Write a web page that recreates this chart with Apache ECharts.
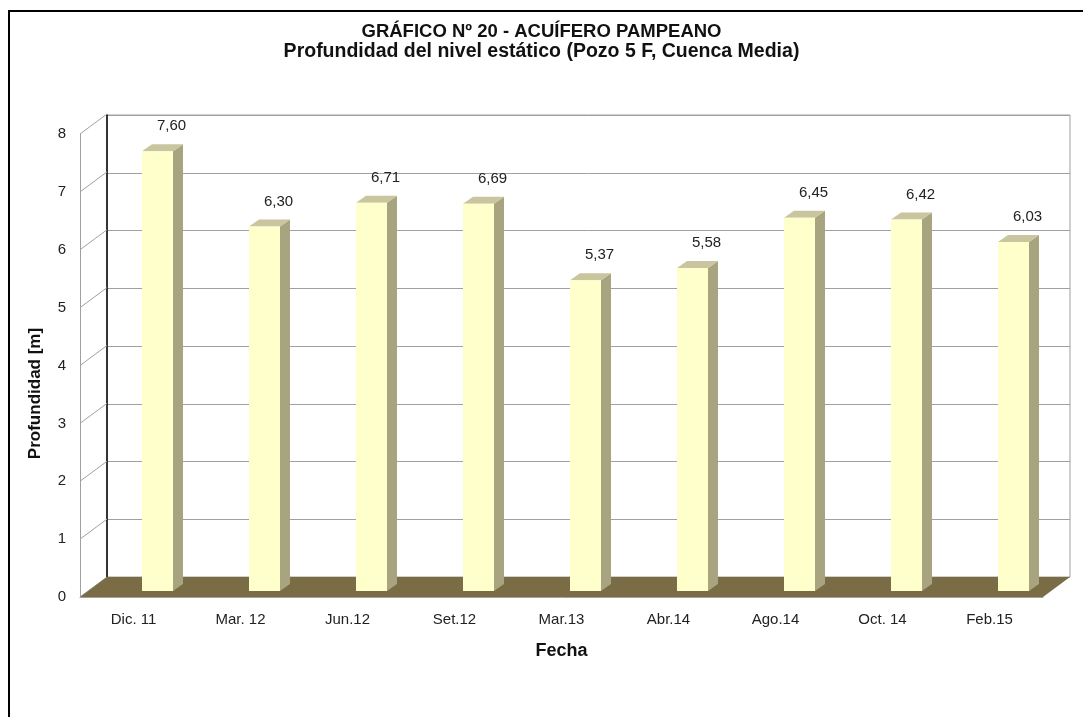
<!DOCTYPE html>
<html>
<head>
<meta charset="utf-8">
<script src="https://cdn.jsdelivr.net/npm/echarts@6/dist/echarts.min.js"></script>
<style>
    html, body {margin: 0; padding: 0; background: #fff;}
    #main {width: 1083px; height: 717px;}
</style>
</head>
<body>
<div id="main"></div>
<script>
const categories = ['Dic. 11', 'Mar. 12', 'Jun.12', 'Set.12', 'Mar.13', 'Abr.14', 'Ago.14', 'Oct. 14', 'Feb.15'];
const depths = [7.60, 6.30, 6.71, 6.69, 5.37, 5.58, 6.45, 6.42, 6.03];
const yTicks = [0, 1, 2, 3, 4, 5, 6, 7, 8];

const font = "'Liberation Sans', Arial, sans-serif";
// depth offset of the 3d box (front plane -> back wall)
const DX = 27, DY = -20;

const myChart = echarts.init(document.getElementById('main'));

// left side wall lines + floor, drawn from the front grid scale
const renderWall = (params, api) => {
    const bw = api.size([1, 0])[0];
    const xl = api.coord([0, 0])[0] - bw / 2;
    const y = api.coord([0, api.value(0)])[1];
    return {
        type: 'line',
        shape: {x1: xl, y1: y, x2: xl + DX, y2: y + DY},
        style: {stroke: '#a0a0a0', lineWidth: 1}
    };
};

const renderFloor = (params, api) => {
    const bw = api.size([1, 0])[0];
    const xl = api.coord([0, 0])[0] - bw / 2;
    const xr = api.coord([categories.length - 1, 0])[0] + bw / 2;
    const y = api.coord([0, 0])[1];
    return {
        type: 'polygon',
        shape: {points: [[xl, y], [xr, y], [xr + DX, y + DY], [xl + DX, y + DY]]},
        style: {fill: '#7a6d45'}
    };
};

const renderBar = (params, api) => {
    const i = api.value(0);
    const v = api.value(1);
    const top = api.coord([i, v]);
    const base = api.coord([i, 0]);
    const cx = top[0] + 24;
    const w = 31, sx = 10, sy = -7;
    const xl = cx - w / 2, xr = cx + w / 2;
    const yt = top[1] - 6, yb = base[1] - 6;
    return {
        type: 'group',
        children: [
            {
                type: 'polygon',
                shape: {points: [[xr, yt], [xr + sx, yt + sy], [xr + sx, yb + sy], [xr, yb]]},
                style: {fill: '#a8a47f'}
            },
            {
                type: 'polygon',
                shape: {points: [[xl, yt], [xl + sx, yt + sy], [xr + sx, yt + sy], [xr, yt]]},
                style: {fill: '#c9c69f'}
            },
            {
                type: 'rect',
                shape: {x: xl, y: yt, width: w, height: yb - yt},
                style: {fill: '#ffffcc'}
            },
            {
                type: 'text',
                style: {
                    x: cx + 14, y: yt - 25,
                    text: v.toFixed(2).replace('.', ','),
                    fill: '#222', font: '15px ' + font,
                    align: 'center', verticalAlign: 'middle'
                }
            }
        ]
    };
};

myChart.setOption({
    animation: false,
    textStyle: {fontFamily: font},
    title: {
        text: 'GRÁFICO Nº 20 - ACUÍFERO PAMPEANO',
        subtext: 'Profundidad del nivel estático (Pozo 5 F, Cuenca Media)',
        left: 'center',
        top: 22,
        padding: 0,
        itemGap: 0,
        textStyle: {fontSize: 18.5, fontWeight: 'bold', color: '#111', lineHeight: 20, fontFamily: font},
        subtextStyle: {fontSize: 19.5, fontWeight: 'bold', color: '#111', lineHeight: 20, fontFamily: font}
    },
    graphic: [
        {type: 'line', shape: {x1: 8, y1: 11, x2: 1083, y2: 11}, style: {stroke: '#000', lineWidth: 2}},
        {type: 'line', shape: {x1: 9, y1: 10, x2: 9, y2: 717}, style: {stroke: '#000', lineWidth: 2}}
    ],
    grid: [
        {left: 80, right: 40, top: 134, bottom: 120},
        {left: 107, right: 13, top: 115, bottom: 140, show: true, borderColor: '#a0a0a0', borderWidth: 1}
    ],
    xAxis: [
        {
            type: 'category',
            gridIndex: 0,
            data: categories,
            axisLine: {lineStyle: {color: '#a0a0a0'}},
            axisTick: {length: 5, lineStyle: {color: '#a0a0a0'}},
            axisLabel: {color: '#222', fontSize: 15, margin: 15},
            name: 'Fecha',
            nameLocation: 'middle',
            nameGap: 45,
            nameTextStyle: {fontSize: 18, fontWeight: 'bold', color: '#111'}
        },
        {type: 'category', gridIndex: 1, data: categories, show: false}
    ],
    yAxis: [
        {
            type: 'value',
            gridIndex: 0,
            min: 0,
            max: 8,
            interval: 1,
            axisLine: {show: true, lineStyle: {color: '#a0a0a0'}},
            axisTick: {show: false},
            splitLine: {show: false},
            axisLabel: {color: '#222', fontSize: 15, margin: 14},
            name: 'Profundidad [m]',
            nameLocation: 'middle',
            nameGap: 36,
            nameTextStyle: {fontSize: 17, fontWeight: 'bold', color: '#111', padding: [0, 56, 0, 0]}
        },
        {
            type: 'value',
            gridIndex: 1,
            min: 0,
            max: 8,
            interval: 1,
            axisLine: {show: true, lineStyle: {color: '#000', width: 1.5}},
            axisTick: {show: false},
            axisLabel: {show: false},
            splitLine: {show: true, lineStyle: {color: '#a0a0a0', width: 1}}
        }
    ],
    series: [
        {
            type: 'custom',
            name: 'pared',
            xAxisIndex: 0,
            yAxisIndex: 0,
            data: yTicks.map(t => [t]),
            renderItem: renderWall,
            silent: true,
            z: 1
        },
        {
            type: 'custom',
            name: 'piso',
            xAxisIndex: 0,
            yAxisIndex: 0,
            data: [[0]],
            renderItem: renderFloor,
            silent: true,
            z: 2
        },
        {
            type: 'custom',
            name: 'Profundidad',
            xAxisIndex: 0,
            yAxisIndex: 0,
            data: depths.map((d, i) => [i, d]),
            encode: {x: 0, y: 1},
            renderItem: renderBar,
            z: 3
        }
    ]
});
</script>
</body>
</html>
